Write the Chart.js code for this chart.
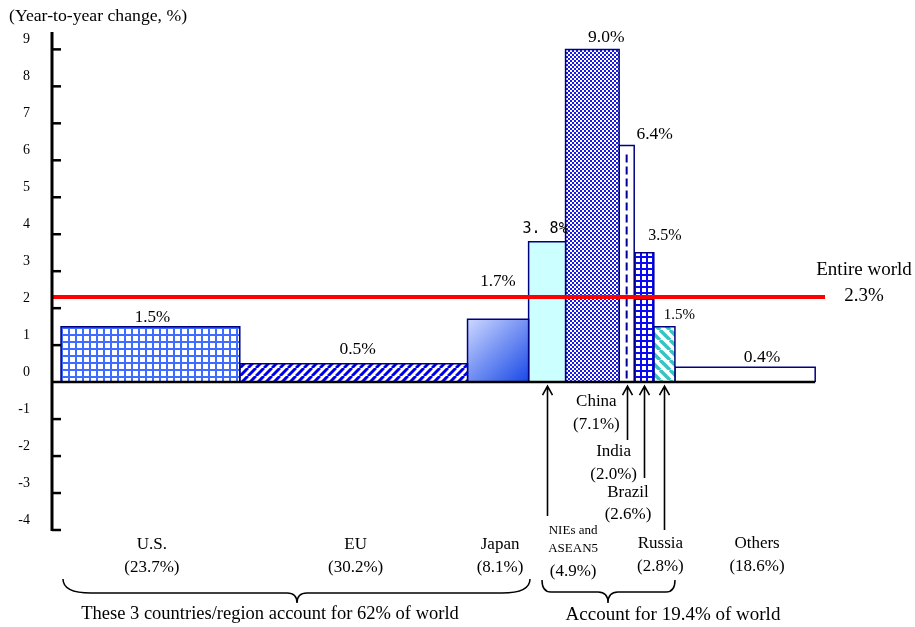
<!DOCTYPE html>
<html>
<head>
<meta charset="utf-8">
<script src="https://cdn.jsdelivr.net/npm/chart.js@4"></script>
<style>
  html, body { margin: 0; padding: 0; background: #ffffff; }
  #wrap { width: 915px; height: 627px; position: relative; }
</style>
</head>
<body>
<div id="wrap"><canvas id="chart"></canvas></div>
<script>
// Real GDP growth by economy; bar width = share of world GDP
const categories = ['U.S.', 'EU', 'Japan', 'NIEs and ASEAN5', 'China', 'India', 'Brazil', 'Russia', 'Others'];
const categoryLines = [['U.S.'], ['EU'], ['Japan'], ['NIEs and', 'ASEAN5'], ['China'], ['India'], ['Brazil'], ['Russia'], ['Others']];
const worldShare = [23.7, 30.2, 8.1, 4.9, 7.1, 2.0, 2.6, 2.8, 18.6];
const growth = [1.5, 0.5, 1.7, 3.8, 9.0, 6.4, 3.5, 1.5, 0.4];
const worldGrowth = 2.3;
const yTicks = [-4, -3, -2, -1, 0, 1, 2, 3, 4, 5, 6, 7, 8, 9];
const advancedGroup = [0, 1, 2];          // U.S., EU, Japan
const emergingGroup = [3, 4, 5, 6, 7];    // NIEs/ASEAN5, China, India, Brazil, Russia

// ---- scale ranges ----
const X_MIN = -1.2, X_MAX = 101.3, Y_MIN = -4, Y_MAX = 9.47;

// cumulative left edges of each bar
const barStart = [];
worldShare.reduce((acc, s, i) => { barStart[i] = acc; return acc + s; }, 0);
const barEnd = worldShare.map((s, i) => barStart[i] + s);
const barMid = worldShare.map((s, i) => barStart[i] + s / 2);

// ---- fill patterns ----
function tile(size, draw) {
  const c = document.createElement('canvas');
  c.width = size; c.height = size;
  const g = c.getContext('2d');
  draw(g, size);
  return g.createPattern(c, 'repeat');
}
const pGridLight = tile(7, (g, s) => {
  g.fillStyle = '#3f6cff'; g.fillRect(0, 0, s, s);
  g.fillStyle = '#ffffff'; g.fillRect(0, 0, 5, 5);
});
const pStripeBlue = tile(8, (g, s) => {
  g.fillStyle = '#ffffff'; g.fillRect(0, 0, s, s);
  g.strokeStyle = '#0000e8'; g.lineWidth = 3;
  for (const k of [-s, 0, s]) { g.beginPath(); g.moveTo(k, s); g.lineTo(k + s, 0); g.stroke(); }
});
const pChecker = tile(4, (g, s) => {
  g.fillStyle = '#1a1ae6'; g.fillRect(0, 0, s, s);
  g.fillStyle = '#ffffff'; g.fillRect(0, 0, 2, 2); g.fillRect(2, 2, 2, 2);
});
const pGridDark = tile(6, (g, s) => {
  g.fillStyle = '#0a0af0'; g.fillRect(0, 0, s, s);
  g.fillStyle = '#ffffff'; g.fillRect(0, 0, 4, 4);
});
const pStripeTeal = tile(10, (g, s) => {
  g.fillStyle = '#ffffff'; g.fillRect(0, 0, s, s);
  g.strokeStyle = '#35c4c4'; g.lineWidth = 3.5;
  for (const k of [-s, 0, s]) { g.beginPath(); g.moveTo(k, 0); g.lineTo(k + s, s); g.stroke(); }
});

// Japan: diagonal light-to-deep blue gradient across its own bar
function japanGradient(ctx) {
  const chart = ctx.chart, sx = chart.scales.x, sy = chart.scales.y;
  const fallback = '#7f9cff';
  if (!sx || !sy) return fallback;
  const i = 2;
  const x0 = sx.getPixelForValue(barStart[i]), x1 = sx.getPixelForValue(barEnd[i]);
  const y0 = sy.getPixelForValue(growth[i]), y1 = sy.getPixelForValue(0);
  if (![x0, x1, y0, y1].every(Number.isFinite)) return fallback;
  const g = chart.ctx.createLinearGradient(x0, y0, x1, y1);
  g.addColorStop(0, '#cdd8ff');
  g.addColorStop(1, '#1848e6');
  return g;
}

const barFills = [pGridLight, pStripeBlue, japanGradient, '#ccffff', pChecker, '#ffffff', pGridDark, pStripeTeal, '#ffffff'];

// ---- datasets: each bar as a closed outline filled to the zero line ----
const barSets = categories.map((name, i) => ({
  label: name,
  data: [
    { x: barStart[i], y: 0 }, { x: barStart[i], y: growth[i] },
    { x: barEnd[i], y: growth[i] }, { x: barEnd[i], y: 0 }
  ],
  borderColor: '#000080',
  borderWidth: 1.5,
  borderJoinStyle: 'miter',
  backgroundColor: barFills[i],
  fill: 'origin',
  pointRadius: 0,
  tension: 0,
  order: 2
}));

// India's bar carries a dashed centre line
const indiaDash = {
  label: 'India dash',
  data: [{ x: barMid[5], y: 0.1 }, { x: barMid[5], y: growth[5] - 0.2 }],
  borderColor: '#000099',
  borderWidth: 2,
  borderDash: [8, 4],
  pointRadius: 0,
  fill: false,
  order: 1
};

const worldLine = {
  label: 'Entire world',
  data: [{ x: X_MIN, y: worldGrowth }, { x: X_MAX, y: worldGrowth }],
  borderColor: '#ff0000',
  borderWidth: 4,
  pointRadius: 0,
  fill: false,
  order: 0
};

// ---- text / decoration styles ----
const SERIF = "'Liberation Serif', 'Times New Roman', serif";
const valueLabelStyle = [
  { dx: 2, dy: -9, size: 17 },
  { dx: 4, dy: -14.5, size: 17.5 },
  { dx: 0, dy: -38, size: 17 },
  { dx: -2, dy: -12.7, size: 15, mono: true },
  { dx: 14, dy: -11.5, size: 17.5 },
  { dx: 28, dy: -11, size: 17.5 },
  { dx: 21, dy: -16.7, size: 16 },
  { dx: 15, dy: -11.5, size: 15 },
  { dx: 17, dy: -10, size: 17.5 }
];
const catLabelStyle = [
  { dx: 1.5, ys: [545], shareY: 568, size: 17 },
  { dx: 2, ys: [545], shareY: 568, size: 17 },
  { dx: 2, ys: [545], shareY: 568, size: 17 },
  { dx: 26, ys: [531, 549], shareY: 572, size: 13 },
  { dx: 4, ys: [402], shareY: 425, size: 17 },
  { dx: -13, ys: [452], shareY: 475, size: 17 },
  { dx: -16, ys: [493], shareY: 515, size: 17 },
  { dx: -4, ys: [544], shareY: 567, size: 17 },
  { dx: 12, ys: [544], shareY: 567, size: 17 }
];
// arrows from label area up to the narrow bars: [bar index, lower end y]
const arrowStyle = [[3, 516], [5, 440], [6, 478], [7, 530]];
const braceStyle = [
  { x1: 63, x2: 530, tip: 297, yTop: 579, yMid: 593, yTip: 603, r: 28, textX: 270, textY: 614, size: 18.5 },
  { x1: 542, x2: 675, tip: 608, yTop: 580, yMid: 592, yTip: 603, r: 9, textX: 673, textY: 615, size: 19 }
];

const sumShare = idx => idx.reduce((a, i) => a + worldShare[i], 0);

const decorations = {
  id: 'decorations',
  afterDatasetsDraw(chart) {
    const { ctx } = chart;
    const sx = chart.scales.x, sy = chart.scales.y;
    const y0 = sy.getPixelForValue(0);
    const axisX = sx.getPixelForValue(X_MIN);
    ctx.save();

    // zero line
    ctx.strokeStyle = '#000000';
    ctx.lineWidth = 2.5;
    ctx.beginPath();
    ctx.moveTo(axisX, y0);
    ctx.lineTo(sx.getPixelForValue(100), y0);
    ctx.stroke();

    // vertical axis with inward ticks
    ctx.lineWidth = 3;
    ctx.beginPath();
    ctx.moveTo(axisX, sy.getPixelForValue(Y_MAX));
    ctx.lineTo(axisX, sy.getPixelForValue(Y_MIN) + 1);
    ctx.stroke();
    ctx.fillStyle = '#000000';
    ctx.font = `14px ${SERIF}`;
    ctx.textAlign = 'right';
    ctx.textBaseline = 'middle';
    yTicks.forEach(t => {
      const py = sy.getPixelForValue(t);
      if (t !== 0) {
        ctx.lineWidth = 2.5;
        ctx.beginPath();
        ctx.moveTo(axisX, py);
        ctx.lineTo(axisX + 9, py);
        ctx.stroke();
      }
      ctx.fillText(String(t), 30, py - 10);
    });

    // unit title
    ctx.textAlign = 'left';
    ctx.font = `17.7px ${SERIF}`;
    ctx.fillText('(Year-to-year change, %)', 9, 16);

    // value labels
    ctx.textAlign = 'center';
    growth.forEach((v, i) => {
      const st = valueLabelStyle[i];
      const px = sx.getPixelForValue(barMid[i]) + st.dx;
      const py = sy.getPixelForValue(v) + st.dy;
      let txt = v.toFixed(1) + '%';
      if (st.mono) {
        ctx.font = `${st.size}px 'DejaVu Sans Mono', monospace`;
        txt = txt.replace('.', '. ');
      } else {
        ctx.font = `${st.size}px ${SERIF}`;
      }
      ctx.fillText(txt, px, py);
    });

    // world average text
    ctx.font = `19px ${SERIF}`;
    ctx.fillText('Entire world', 864, 270);
    ctx.fillText(worldGrowth.toFixed(1) + '%', 864, 296);

    // category names with world shares
    categoryLines.forEach((lines, i) => {
      const st = catLabelStyle[i];
      const px = sx.getPixelForValue(barMid[i]) + st.dx;
      ctx.font = `${st.size}px ${SERIF}`;
      lines.forEach((ln, k) => ctx.fillText(ln, px, st.ys[k]));
      ctx.font = `17px ${SERIF}`;
      ctx.fillText('(' + worldShare[i].toFixed(1) + '%)', px, st.shareY);
    });

    // arrows
    ctx.lineWidth = 1.6;
    arrowStyle.forEach(([i, yEnd]) => {
      const px = Math.round(sx.getPixelForValue(barMid[i])) + 0.5;
      const tipY = y0 + 4;
      ctx.beginPath();
      ctx.moveTo(px, yEnd);
      ctx.lineTo(px, tipY);
      ctx.moveTo(px - 5, tipY + 9);
      ctx.lineTo(px, tipY);
      ctx.lineTo(px + 5, tipY + 9);
      ctx.stroke();
    });

    // braces grouping economies
    const groups = [
      'These 3 countries/region account for ' + Math.round(sumShare(advancedGroup)) + '% of world',
      'Account for ' + sumShare(emergingGroup).toFixed(1) + '% of world'
    ];
    ctx.lineWidth = 1.5;
    braceStyle.forEach((b, k) => {
      ctx.beginPath();
      ctx.moveTo(b.x1, b.yTop);
      ctx.quadraticCurveTo(b.x1, b.yMid, b.x1 + b.r, b.yMid);
      ctx.lineTo(b.tip - 10, b.yMid);
      ctx.quadraticCurveTo(b.tip, b.yMid, b.tip, b.yTip);
      ctx.quadraticCurveTo(b.tip, b.yMid, b.tip + 10, b.yMid);
      ctx.lineTo(b.x2 - b.r, b.yMid);
      ctx.quadraticCurveTo(b.x2, b.yMid, b.x2, b.yTop);
      ctx.stroke();
      ctx.font = `${b.size}px ${SERIF}`;
      ctx.fillText(groups[k], b.textX, b.textY);
    });

    ctx.restore();
  }
};

new Chart(document.getElementById('chart'), {
  type: 'line',
  data: { datasets: [...barSets, indiaDash, worldLine] },
  options: {
    responsive: true,
    maintainAspectRatio: false,
    animation: false,
    layout: { padding: { left: 52, right: 90, top: 32, bottom: 97 } },
    scales: {
      x: { type: 'linear', min: X_MIN, max: X_MAX, display: false },
      y: { type: 'linear', min: Y_MIN, max: Y_MAX, display: false }
    },
    plugins: {
      legend: { display: false },
      tooltip: { enabled: false }
    }
  },
  plugins: [decorations]
});
</script>
</body>
</html>
